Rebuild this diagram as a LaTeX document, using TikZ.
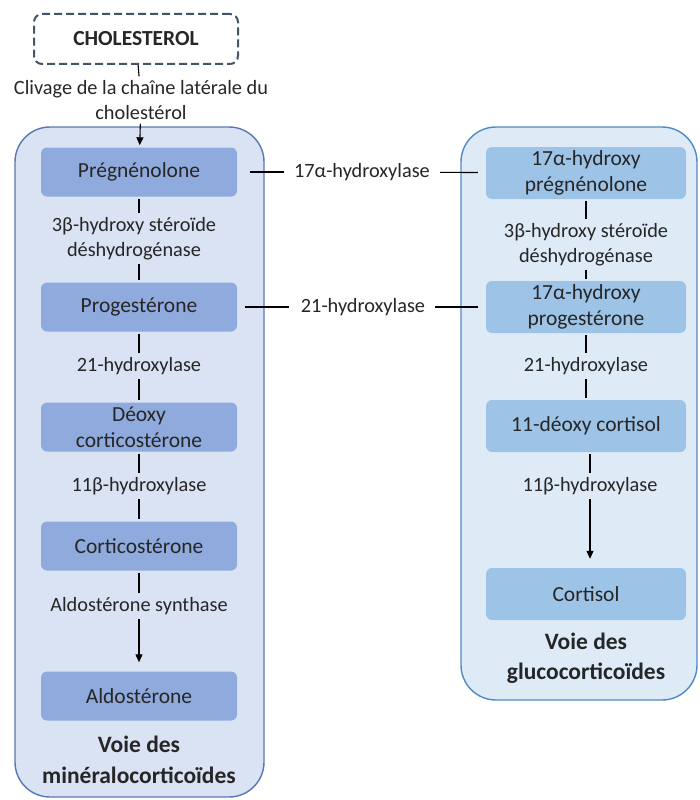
\documentclass[tikz,border=0pt]{standalone}
\usepackage{fontspec}
\setmainfont{Carlito}
\usetikzlibrary{positioning}
\usetikzlibrary{arrows.meta}

\definecolor{minfill}{HTML}{DAE3F3}
\definecolor{minline}{HTML}{5878B4}
\definecolor{minbox}{HTML}{8FAADC}
\definecolor{glufill}{HTML}{DEEBF7}
\definecolor{gluline}{HTML}{4F8AC4}
\definecolor{glubox}{HTML}{9DC3E6}
\definecolor{cholline}{HTML}{44546A}
\definecolor{txt}{HTML}{262626}

\tikzset{
	txtfont/.style={font=\fontsize{20.3}{24.5}\selectfont, text=txt},
	boxfont/.style={font=\fontsize{21.5}{26.5}\selectfont, text=txt},
	minstep/.style={boxfont, fill=minbox, rounded corners=6pt, minimum width=196pt, minimum height=49pt, align=center, inner sep=0pt},
	glustep/.style={boxfont, fill=glubox, rounded corners=6pt, minimum width=200pt, minimum height=52pt, align=center, inner sep=0pt},
	enzyme/.style={txtfont, align=center, inner sep=2pt},
	pathtitle/.style={font=\bfseries\fontsize{23.5}{30.5}\selectfont, text=txt, align=center},
	link/.style={line width=1.1pt, shorten <=2pt, shorten >=2pt},
	linkarrow/.style={link, -{Triangle[length=8pt,width=7pt]}},
}

\begin{document}
\begin{tikzpicture}[x=1pt,y=-1pt]
	
	\useasboundingbox (0,0) rectangle (699,800);
	
	% the two pathways (containers)
	\draw[line width=1.4pt, draw=minline, fill=minfill, rounded corners=35pt] (15,127) rectangle (264,797);
	\draw[line width=1.4pt, draw=gluline, fill=glufill, rounded corners=35pt] (461,127) rectangle (697,700);
	
	% start
	\node[txtfont, font=\bfseries\fontsize{21.5}{26}\selectfont, draw=cholline, line width=2pt, dash pattern=on 8pt off 4pt,
		rounded corners=8pt, minimum width=204pt, minimum height=50pt] (chol) at (136,39) {CHOLESTEROL};
	\node[enzyme] (cliv) at (141,100) {Clivage de la chaîne latérale du\\cholestérol};
	
	%%%%%%%%%%%%%%%%%%%%%%%%%%%%%%%%%%%%%%%%%%%%%%%%%%%%%%%%%%%%%%
	% voie des minéralocorticoïdes
	\node[minstep] (preg)  at (139,172) {Prégnénolone};
	\node[enzyme]  (e3b)   at (134,238.5) {3β-hydroxy stéroïde\\déshydrogénase};
	\node[minstep] (prog)  at (139,307) {Progestérone};
	\node[enzyme]  (e21)   at (139,366) {21-hydroxylase};
	\node[minstep] (doc)   at (139,427) {Déoxy\\corticostérone};
	\node[enzyme]  (e11)   at (139,486) {11β-hydroxylase};
	\node[minstep] (cort)  at (139,546) {Corticostérone};
	\node[enzyme]  (ealdo) at (139,606) {Aldostérone synthase};
	\node[minstep] (aldo)  at (139,696) {Aldostérone};
	\node[pathtitle] (tmin) at (139,760) {Voie des\\minéralocorticoïdes};
	
	% voie des glucocorticoïdes
	\node[glustep] (hpreg) at (586,173) {17α-hydroxy\\prégnénolone};
	\node[enzyme]  (g3b)   at (586,244.5) {3β-hydroxy stéroïde\\déshydrogénase};
	\node[glustep] (hprog) at (586,307) {17α-hydroxy\\progestérone};
	\node[enzyme]  (g21)   at (586,366) {21-hydroxylase};
	\node[glustep] (dcol)  at (586,426) {11-déoxy cortisol};
	\node[enzyme]  (g11)   at (590,486) {11β-hydroxylase};
	\node[glustep] (col)   at (586,594) {Cortisol};
	\node[pathtitle] (tglu) at (586,658) {Voie des\\glucocorticoïdes};
	
	% between the two
	\node[enzyme] (h17) at (362,172) {17α-hydroxylase};
	\node[enzyme] (h21) at (363,307) {21-hydroxylase};
	
	%%%%%%%%%%%%%%%%%%%%%%%%%%%%%%%%%%%%%%%%%%%%%%%%%%%%%%%%%%%%%%
	\draw[link, shorten <=0pt] (chol) -- (cliv);
	\draw[linkarrow] (cliv) -- (preg);
	
	\draw[link] (preg) -- (preg |- e3b.north);
	\draw[link] (preg |- e3b.south) -- (prog);
	\draw[link] (prog) -- (e21);
	\draw[link] (e21) -- (doc);
	\draw[link] (doc) -- (e11);
	\draw[link] (e11) -- (cort);
	\draw[link] (cort) -- (ealdo);
	\draw[linkarrow, shorten >=9pt] (ealdo) -- (aldo);
	
	\draw[link] (hpreg) -- (g3b);
	\draw[link] (g3b) -- (hprog);
	\draw[link] (hprog) -- (g21);
	\draw[link] (g21) -- (dcol);
	\draw[link] (dcol.south -| g11) -- (g11);
	\draw[linkarrow, shorten >=9pt] (g11) -- (col.north -| g11);
	
	\draw[link, shorten <=13pt, shorten >=8pt] (preg) -- (h17);
	\draw[link, shorten <=8pt, shorten >=8pt] (h17) -- (hpreg);
	\draw[link, shorten <=8pt, shorten >=10pt] (prog) -- (h21);
	\draw[link, shorten <=8pt, shorten >=8pt] (h21) -- (hprog);
	
\end{tikzpicture}
\end{document}
